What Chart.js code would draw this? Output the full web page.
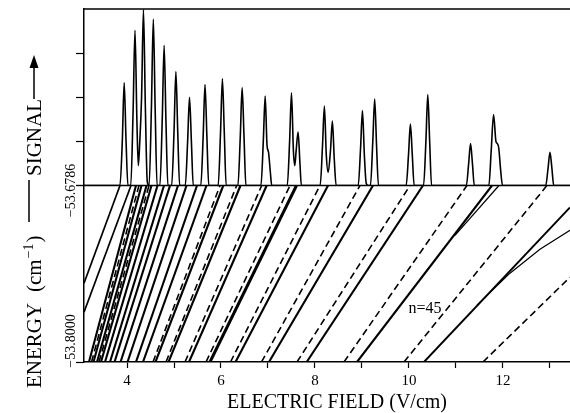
<!DOCTYPE html>
<html>
<head>
<meta charset="utf-8">
<title>Stark map near n=45</title>
<script src="https://cdn.jsdelivr.net/npm/chart.js@4.4.1/dist/chart.umd.min.js"></script>
<style>
  html, body { margin: 0; padding: 0; background: #fff; }
  canvas { display: block; }
</style>
</head>
<body>
<canvas id="stark-chart" width="570" height="413"></canvas>
<script>
// electric field axis (V/cm)
const fieldTicks = [4, 5, 6, 7, 8, 9, 10, 11, 12, 13];
const fieldTickLabels = ["4", "", "6", "", "8", "", "10", "", "12", ""];
const fieldMin = 3.085;
const fieldMax = 13.426;

// signal panel (arbitrary units, ticks only)
const signalTicks = [0, 1, 2, 3];

// energy panel (cm^-1)
const energyTicks = [-53.8, -53.6786];
const energyTickLabels = ["\u221253.8000", "\u221253.6786"];
const energyMin = -53.8;
const energyMax = -53.6786;

// signal trace
const sigField = [
  3.085, 3.85, 3.90, 3.94, 3.98, 4.02,
  4.08, 4.13, 4.17, 4.21, 4.24, 4.27, 4.31, 4.35, 4.39, 4.43, 4.46,
  4.47, 4.52, 4.56, 4.60, 4.64,
  4.70, 4.75, 4.79, 4.83, 4.87,
  4.95, 5.00, 5.04, 5.08, 5.12,
  5.24, 5.29, 5.33, 5.37, 5.41,
  5.57, 5.62, 5.66, 5.70, 5.74,
  5.94, 5.99, 6.03, 6.07, 6.11,
  6.36, 6.41, 6.45, 6.49, 6.53,
  6.85, 6.90, 6.94, 6.98, 7.01, 7.05, 7.08,
  7.41, 7.46, 7.50, 7.54, 7.57, 7.60, 7.64, 7.68, 7.71,
  8.11, 8.16, 8.20, 8.24, 8.28, 8.33, 8.37, 8.41, 8.45,
  8.92, 8.97, 9.01, 9.05, 9.09, 9.13,
  9.18, 9.23, 9.27, 9.31, 9.35,
  9.94, 9.99, 10.03, 10.07, 10.11,
  10.31, 10.36, 10.40, 10.44, 10.48,
  11.22, 11.27, 11.31, 11.35, 11.39,
  11.70, 11.75, 11.80, 11.85, 11.88, 11.91, 11.95, 11.99,
  12.91, 12.96, 13.00, 13.04, 13.08,
  13.426
];
const sigLevel = [
  0, 0, 1.0, 2.33, 1.0, 0,
  0, 1.7, 3.52, 1.5, 0.45, 0.95, 2.0, 3.99, 1.8, 0.1, 0,
  0, 1.8, 3.77, 1.7, 0,
  0, 1.5, 3.18, 1.4, 0,
  0, 1.2, 2.58, 1.2, 0,
  0, 1.0, 2.0, 1.0, 0,
  0, 1.1, 2.29, 1.1, 0,
  0, 1.2, 2.42, 1.2, 0,
  0, 1.1, 2.22, 1.1, 0,
  0, 1.0, 2.03, 0.9, 0.76, 0.3, 0,
  0, 1.0, 2.1, 0.8, 0.45, 0.8, 1.21, 0.5, 0,
  0, 0.9, 1.8, 0.7, 0.3, 0.8, 1.46, 0.6, 0,
  0, 0.85, 1.7, 0.7, 0.05, 0,
  0, 1.0, 1.96, 0.9, 0,
  0, 0.7, 1.39, 0.7, 0,
  0, 1.0, 2.06, 1.0, 0,
  0, 0.5, 0.95, 0.5, 0,
  0, 0.8, 1.61, 1.0, 0.95, 0.85, 0.35, 0,
  0, 0.4, 0.75, 0.4, 0,
  0
];

// Stark levels: field where a level crosses the bottom / the top of the energy window
const solidBottom = [3.191, 3.287, 3.362, 3.447, 3.532, 3.638, 3.734, 3.862, 4.011, 4.191,
  4.340, 4.606, 4.883, 5.319, 6.309, 7.021, 7.823, 8.894];
const solidTop = [4.191, 4.309, 4.415, 4.521, 4.649, 4.787, 4.915, 5.085, 5.266, 5.489,
  5.691, 6.049, 6.415, 6.972, 8.277, 9.234, 10.298, 11.766];
const dashedBottom = [3.245, 3.404, 4.553, 4.830, 5.234, 5.681, 6.202, 6.862, 7.617, 8.617, 9.894];
const dashedTop = [4.255, 4.468, 5.979, 6.334, 6.866, 7.468, 8.106, 8.957, 10.021, 11.234, 12.936];
const boldBottom = [5.766];
const boldTop = [7.606];

// levels entering through the left edge
const edgeEnergy = [-53.7458, -53.7657];
const edgeTop = [3.851, 4.085];

// levels leaving through the right edge
const rightSolidBottom = [10.319];
const rightSolidEnergy = [-53.6937];
const rightDashedBottom = [11.574];
const rightDashedEnergy = [-53.7417];

// split branches near n=45
const branch1Field = [10.979, 11.915];
const branch1Energy = [-53.7129, -53.6786];
const branch2Field = [11.447, 12.149, 12.787, 13.426];
const branch2Energy = [-53.7609, -53.7389, -53.7225, -53.7094];

const serif = '"Liberation Serif", "Times New Roman", serif';

const datasets = [{
  data: sigField.map((f, i) => ({ x: f, y: sigLevel[i] })),
  yAxisID: "ySig",
  borderColor: "#000",
  borderWidth: 1.6,
  pointRadius: 0,
  cubicInterpolationMode: "monotone"
}];

function addLevel(points, width, dash) {
  datasets.push({
    data: points,
    yAxisID: "yE",
    borderColor: "#000",
    borderWidth: width,
    borderDash: dash,
    pointRadius: 0
  });
}

solidBottom.forEach((f, i) => addLevel([{ x: f, y: energyMin }, { x: solidTop[i], y: energyMax }], 2.1, []));
dashedBottom.forEach((f, i) => addLevel([{ x: f, y: energyMin }, { x: dashedTop[i], y: energyMax }], 1.6, [7, 4]));
boldBottom.forEach((f, i) => addLevel([{ x: f, y: energyMin }, { x: boldTop[i], y: energyMax }], 3, []));
edgeEnergy.forEach((e, i) => addLevel([{ x: fieldMin, y: e }, { x: edgeTop[i], y: energyMax }], 1.7, []));
rightSolidBottom.forEach((f, i) => addLevel([{ x: f, y: energyMin }, { x: fieldMax, y: rightSolidEnergy[i] }], 1.9, []));
rightDashedBottom.forEach((f, i) => addLevel([{ x: f, y: energyMin }, { x: fieldMax, y: rightDashedEnergy[i] }], 1.6, [7, 4]));
addLevel(branch1Field.map((f, i) => ({ x: f, y: branch1Energy[i] })), 1.2, []);
addLevel(branch2Field.map((f, i) => ({ x: f, y: branch2Energy[i] })), 1.2, []);

const frameAndLabels = {
  id: "frameAndLabels",
  afterDraw(chart) {
    const { ctx, chartArea: area, scales } = chart;
    const x = scales.x, ySig = scales.ySig, yE = scales.yE;
    ctx.save();
    ctx.strokeStyle = "#000";
    ctx.fillStyle = "#000";

    // top border and panel divider
    ctx.lineWidth = 1.5;
    const topY = ySig.getPixelForValue(ySig.max);
    const midY = ySig.getPixelForValue(0);
    ctx.beginPath();
    ctx.moveTo(area.left, topY); ctx.lineTo(area.right, topY);
    ctx.moveTo(area.left, midY); ctx.lineTo(area.right, midY);
    ctx.stroke();

    // rotated energy tick labels
    ctx.font = "14px " + serif;
    ctx.textAlign = "center";
    ctx.textBaseline = "alphabetic";
    const shift = [-21, 5];
    energyTicks.forEach((v, i) => {
      ctx.save();
      ctx.translate(75, yE.getPixelForValue(v) + shift[i]);
      ctx.rotate(-Math.PI / 2);
      ctx.fillText(energyTickLabels[i], 0, 0);
      ctx.restore();
    });

    // n=45 label
    ctx.font = "16px " + serif;
    ctx.textBaseline = "middle";
    ctx.fillText("n=45", x.getPixelForValue(10.34), yE.getPixelForValue(-53.7636));

    // x title
    ctx.font = "20px " + serif;
    ctx.textBaseline = "alphabetic";
    ctx.fillText("ELECTRIC FIELD (V/cm)", 337, 408);

    // y title, drawn bottom to top
    ctx.save();
    ctx.translate(41, 0);
    ctx.rotate(-Math.PI / 2);
    ctx.textAlign = "left";
    ctx.font = "21px " + serif;
    ctx.fillText("ENERGY", -388, 0);
    let u = -292;
    ctx.fillText("(cm", u, 0);
    u += ctx.measureText("(cm").width + 1;
    ctx.font = "14px " + serif;
    ctx.fillText("\u22121", u, -8);
    u += ctx.measureText("\u22121").width + 1;
    ctx.font = "21px " + serif;
    ctx.fillText(")", u, 0);
    ctx.fillText("SIGNAL", -176, 0);
    ctx.lineWidth = 1.5;
    ctx.beginPath();
    ctx.moveTo(-222, -12); ctx.lineTo(-180, -12);
    ctx.moveTo(-99, -7); ctx.lineTo(-66, -7);
    ctx.stroke();
    ctx.beginPath();
    ctx.moveTo(-55, -7); ctx.lineTo(-68, -11.5); ctx.lineTo(-68, -2.5);
    ctx.closePath();
    ctx.fill();
    ctx.restore();

    ctx.restore();
  }
};

new Chart(document.getElementById("stark-chart"), {
  type: "line",
  data: { datasets },
  options: {
    responsive: false,
    animation: false,
    devicePixelRatio: 1,
    layout: { padding: { top: 9, left: 0, right: 0, bottom: 0 } },
    plugins: { legend: { display: false }, tooltip: { enabled: false } },
    scales: {
      x: {
        type: "linear",
        position: "bottom",
        min: fieldMin,
        max: fieldMax,
        afterBuildTicks: (s) => { s.ticks = fieldTicks.map((v) => ({ value: v })); },
        afterFit: (s) => { s.height = 51; },
        ticks: {
          autoSkip: false,
          maxRotation: 0,
          padding: 4,
          color: "#000",
          font: { family: "Liberation Serif", size: 15 },
          callback: (v, i) => fieldTickLabels[i]
        },
        grid: { drawOnChartArea: false, tickLength: 6, color: "#000", tickWidth: 1.2 },
        border: { color: "#000", width: 1.5 }
      },
      yE: {
        type: "linear",
        position: "left",
        stack: "left",
        stackWeight: 1,
        min: energyMin,
        max: energyMax,
        afterBuildTicks: (s) => { s.ticks = energyTicks.map((v) => ({ value: v })); },
        afterFit: (s) => { s.width = 84; },
        ticks: { display: false, autoSkip: false },
        grid: { drawOnChartArea: false, tickLength: 8, color: "#000", tickWidth: 1.2 },
        border: { color: "#000", width: 1.5 }
      },
      ySig: {
        type: "linear",
        position: "left",
        stack: "left",
        stackWeight: 1,
        min: 0,
        max: 4,
        afterBuildTicks: (s) => { s.ticks = signalTicks.map((v) => ({ value: v })); },
        afterFit: (s) => { s.width = 84; },
        ticks: { display: false, autoSkip: false },
        grid: { drawOnChartArea: false, tickLength: 8, color: "#000", tickWidth: 1.2 },
        border: { color: "#000", width: 1.5 }
      }
    }
  },
  plugins: [frameAndLabels]
});
</script>
</body>
</html>
